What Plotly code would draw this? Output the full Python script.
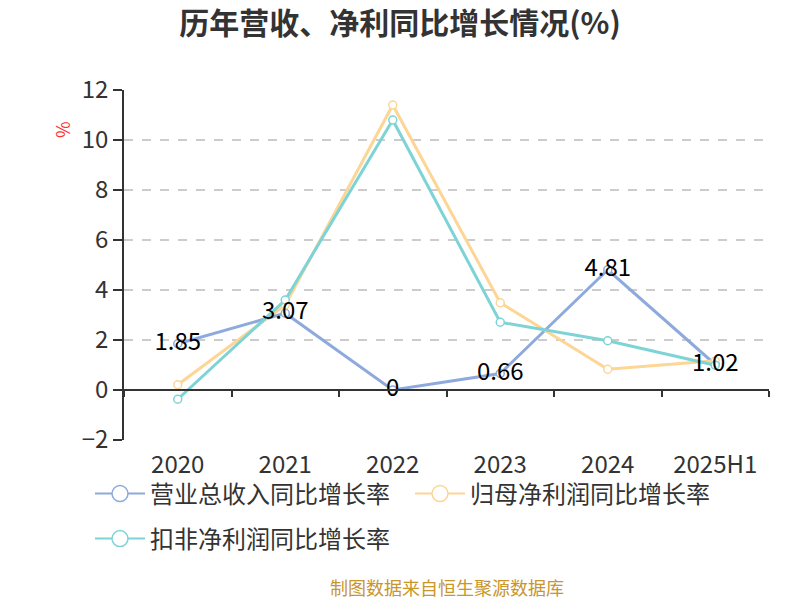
import plotly.graph_objects as go

categories = ["2020", "2021", "2022", "2023", "2024", "2025H1"]
revenue_growth = [1.85, 3.07, 0, 0.66, 4.81, 1.02]
net_profit_growth = [0.21, 3.4, 11.4, 3.49, 0.83, 1.17]
deducted_profit_growth = [-0.37, 3.6, 10.8, 2.71, 1.97, 0.99]
series_names = ["营业总收入同比增长率", "归母净利润同比增长率", "扣非净利润同比增长率"]
colors = ["#8eaadc", "#fdd595", "#7dd3d5"]
y_ticks = [-2, 0, 2, 4, 6, 8, 10, 12]

FONT = "Noto Sans CJK SC"
fig = go.Figure()

series = [revenue_growth, net_profit_growth, deducted_profit_growth]
for name, vals, c in zip(series_names, series, colors):
    fig.add_trace(go.Scatter(
        x=categories, y=vals, mode="lines+markers", name=name,
        line=dict(color=c, width=3),
        marker=dict(symbol="circle", size=8, color="white", line=dict(color=c, width=1.5)),
        showlegend=False, hoverinfo="skip"))

# labels for revenue series on top
fig.add_trace(go.Scatter(
    x=categories, y=revenue_growth, mode="text",
    text=[f"{v:g}" for v in revenue_growth], textposition="middle center",
    textfont=dict(family=FONT, size=24, color="#000"),
    showlegend=False, hoverinfo="skip"))

# axis line at y=0 carried by a dummy trace on xaxis2
fig.add_trace(go.Scatter(x=categories, y=revenue_growth, xaxis="x2", mode="lines",
                         line=dict(width=0), opacity=0, showlegend=False, hoverinfo="skip"))

# legend-only entries
legend_ids = ["legend", "legend2", "legend3"]
for name, c, lid in zip(series_names, colors, legend_ids):
    fig.add_trace(go.Scatter(
        x=[None], y=[None], mode="lines+markers", name=name, legend=lid,
        line=dict(color=c, width=2),
        marker=dict(symbol="circle", size=16, color="white", line=dict(color=c, width=1.5)),
        showlegend=True))

W, H = 800, 600
L, R, T, B = 124, 31, 90, 160
pw, ph = W - L - R, H - T - B

def px(x):
    return (x - L) / pw

def py(y):
    return (H - B - y) / ph

legend_common = dict(orientation="h", font=dict(family=FONT, size=24, color="#333"),
                     bgcolor="rgba(0,0,0,0)", itemwidth=50, yanchor="middle", xanchor="left",
                     xref="container", yref="container")

x_range = [-0.5, len(categories) - 0.5]

fig.update_layout(
    width=W, height=H,
    margin=dict(l=L, r=R, t=T, b=B, autoexpand=False),
    paper_bgcolor="white", plot_bgcolor="white",
    font=dict(family=FONT, color="#333"),
    title=dict(text="<b>历年营收、净利同比增长情况(%)</b>", x=0.5, xanchor="center",
               y=1 - 23 / H, yanchor="middle",
               font=dict(family=FONT, size=30, color="#333")),
    xaxis=dict(type="category", range=x_range, showline=False, showgrid=False, ticks="",
               tickfont=dict(family=FONT, size=24, color="#333"), zeroline=False,
               automargin=False, ticklabelstandoff=8),
    xaxis2=dict(type="category", overlaying="x", matches="x", anchor="free",
                position=2 / 14, side="bottom", showline=True, linecolor="#333", linewidth=1.5,
                ticks="outside", tickson="boundaries", ticklen=6, tickcolor="#333", tickwidth=1.5,
                showticklabels=False, showgrid=False, zeroline=False),
    yaxis=dict(range=[-2, 12], tickvals=y_ticks, showline=True, linecolor="#333", linewidth=1.5,
               ticks="outside", ticklen=9, tickcolor="#333", tickwidth=1.5,
               showgrid=True, gridcolor="#cccccc", griddash="dash", gridwidth=1.5,
               zeroline=False, tickfont=dict(family=FONT, size=24, color="#333"),
               automargin=False),
    legend=dict(x=90 / W, y=1 - 494 / H, **legend_common),
    legend2=dict(x=410 / W, y=1 - 494 / H, **legend_common),
    legend3=dict(x=90 / W, y=1 - 539 / H, **legend_common),
    annotations=[
        dict(text="%", x=px(62), y=py(130), xref="paper", yref="paper", showarrow=False,
             xanchor="center", yanchor="middle",
             textangle=-90, font=dict(family=FONT, size=18, color="#ff3333")),
        dict(text="制图数据来自恒生聚源数据库", x=0.5, xref="paper", xanchor="center",
             y=py(587), yref="paper", yanchor="middle", showarrow=False,
             font=dict(family=FONT, size=18, color="#c8962b")),
    ],
)

fig.write_html("out.html", config={"displayModeBar": False},
               post_script="document.body.style.margin='0';document.body.style.overflow='hidden';")
